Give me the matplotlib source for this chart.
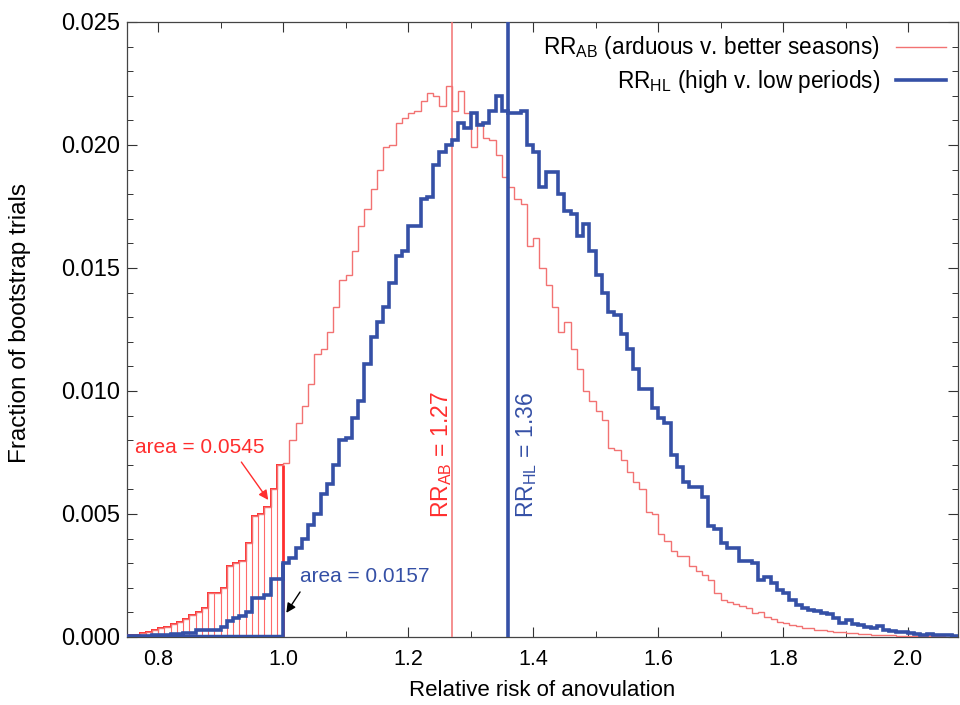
import numpy as np
import matplotlib
matplotlib.use("Agg")
import matplotlib.pyplot as plt
from matplotlib.ticker import MultipleLocator, FormatStrFormatter

# ---------------- data ----------------
bin_start = 0.75
bin_width = 0.01
cutoff = 1.0

# RR_AB (arduous v. better seasons): fraction of bootstrap trials per bin (0.75 ... 2.07)
ab_frac = [
    0.0001, 0.0001, 0.00015, 0.00022, 0.00028, 0.00035, 0.0004, 0.00053, 0.0006, 0.00072,
    0.0009, 0.001, 0.00117, 0.00178, 0.00178, 0.00198, 0.0029, 0.003, 0.0031, 0.0038,
    0.0049, 0.005, 0.0053, 0.006, 0.007,
    0.00706, 0.0080, 0.0087, 0.0094, 0.0103, 0.0115, 0.0117, 0.0124, 0.0134, 0.0145,
    0.0147, 0.0157, 0.0167, 0.0174, 0.0182, 0.0190, 0.0199, 0.0200, 0.0209, 0.0211,
    0.0213, 0.0214, 0.0218, 0.0221, 0.0220, 0.0216, 0.0224, 0.0214, 0.0222, 0.0213,
    0.0199, 0.0209, 0.0203, 0.0202, 0.0196, 0.0187, 0.0183, 0.0178, 0.0176, 0.0159,
    0.0162, 0.0150, 0.0143, 0.0134, 0.0124, 0.0128, 0.0117, 0.0109, 0.0100, 0.0096,
    0.0092, 0.0088, 0.0077, 0.0076, 0.0072, 0.0067, 0.0063, 0.0060, 0.0051, 0.0050,
    0.0042, 0.0039, 0.0035, 0.0033, 0.0033, 0.0029, 0.0027, 0.0025, 0.0023, 0.0018,
    0.0015, 0.00144, 0.00134, 0.00126, 0.00117, 0.00096, 0.00103, 0.0008, 0.00072, 0.00062,
    0.00058, 0.00049, 0.00045, 0.00035, 0.00035, 0.0003, 0.00028, 0.00024, 0.00022, 0.0002,
    0.00018, 0.00015, 0.00013, 0.00012, 0.0001, 0.00009, 0.00008, 0.00006, 0.00005, 0.00005,
    0.00004, 0.00003, 0.00003, 0.00002, 0.00002, 0.00002, 0.00001, 0.00001,
]

# RR_HL (high v. low periods)
hl_frac = [
    0.00003, 0.00003, 0.00004, 0.00005, 0.00006, 0.0001, 0.0001, 0.00012, 0.00012, 0.00015,
    0.00015, 0.00028, 0.00028, 0.0003, 0.0003, 0.00041, 0.00065, 0.00078, 0.00085, 0.001,
    0.00157, 0.00157, 0.0017, 0.00234, 0.00236,
    0.0030, 0.0032, 0.0036, 0.0040, 0.00455, 0.0050, 0.0058, 0.0062, 0.0070, 0.0080,
    0.0081, 0.0089, 0.0096, 0.0111, 0.0122, 0.0128, 0.0134, 0.0144, 0.0155, 0.0157,
    0.0167, 0.0167, 0.0178, 0.0179, 0.0192, 0.0197, 0.0200, 0.0202, 0.0209, 0.0207,
    0.0213, 0.0208, 0.0209, 0.0214, 0.0220, 0.0214, 0.0213, 0.0213, 0.0214, 0.0200,
    0.0197, 0.0183, 0.0189, 0.0189, 0.0180, 0.0173, 0.0172, 0.0163, 0.0168, 0.0157,
    0.0147, 0.0140, 0.0132, 0.0131, 0.0123, 0.0117, 0.0109, 0.0101, 0.0101, 0.0093,
    0.0089, 0.0087, 0.0074, 0.0069, 0.0063, 0.0061, 0.0061, 0.0057, 0.0045, 0.0044,
    0.0038, 0.0036, 0.0036, 0.0031, 0.0031, 0.0030, 0.0023, 0.00245, 0.0022, 0.0019,
    0.0018, 0.0015, 0.0013, 0.00117, 0.0011, 0.00107, 0.00096, 0.00094, 0.00076, 0.00058,
    0.00069, 0.00053, 0.00049, 0.00039, 0.00035, 0.00045, 0.00028, 0.00026, 0.00022, 0.0002,
    0.00015, 0.00012, 0.0001, 0.00012, 0.00009, 0.00008, 0.00006, 0.00005,
]

rr_ab = 1.27
rr_hl = 1.36
area_ab = "0.0545"
area_hl = "0.0157"

legend_ab = r"RR$_{\mathrm{AB}}$ (arduous v. better seasons)"
legend_hl = r"RR$_{\mathrm{HL}}$ (high v. low periods)"
xlabel = "Relative risk of anovulation"
ylabel = "Fraction of bootstrap trials"

# ---------------- style ----------------
plt.rcParams['font.family'] = ['Liberation Sans', 'DejaVu Sans']
plt.rcParams['mathtext.fontset'] = 'custom'
plt.rcParams['mathtext.rm'] = 'Liberation Sans'
plt.rcParams['mathtext.it'] = 'Liberation Sans:italic'
plt.rcParams['mathtext.bf'] = 'Liberation Sans:bold'

RED_LINE = '#f27272'
RED = '#ff2e2e'
RED_HATCH = '#ff6a6a'
BLUE = '#3550a6'

ab = np.array(ab_frac)
hl = np.array(hl_frac)
n = len(ab)
edges = bin_start + bin_width * np.arange(n + 1)
lefts = edges[:-1]
n_low = int((lefts < cutoff - 1e-9).sum())

fig = plt.figure(figsize=(9.6, 7.05), dpi=100)
ax = fig.add_axes([0.1323, 0.0965, 0.8656, 0.8723])

# hatched area of RR_AB below 1.0 (vertical line at every bin edge)
inner = edges[1:n_low]
inner_h = np.maximum(ab[:n_low - 1], ab[1:n_low])
ax.vlines(inner, 0, inner_h, color=RED_HATCH, linewidth=0.8, zorder=2)
ax.stairs(ab[:n_low], edges[:n_low + 1], baseline=None, color=RED, linewidth=1.4, zorder=3)
ax.vlines(cutoff, 0, ab[n_low - 1], color=RED, linewidth=2.0, zorder=3)

# full RR_AB histogram
ax.stairs(ab, edges, baseline=None, color=RED_LINE, linewidth=1.0, zorder=3,
          label=legend_ab)

# RR_HL histogram
ax.stairs(hl, edges, baseline=None, color=BLUE, linewidth=2.6, zorder=4,
          label=legend_hl)
ax.plot([bin_start, cutoff], [0, 0], color=BLUE, linewidth=3.2, zorder=4,
        solid_capstyle='butt')
ax.vlines(cutoff, 0, max(hl[n_low - 1], hl[n_low]), color=BLUE, linewidth=2.6, zorder=4)

# median lines
ax.axvline(rr_ab, color=RED_LINE, linewidth=1.1, zorder=3)
ax.axvline(rr_hl, color=BLUE, linewidth=2.6, zorder=4)

# labels on median lines
ax.text(1.254, 0.0074, r"RR$_{\mathrm{AB}}$ = 1.27", rotation=90, color=RED,
        fontsize=16.5, ha='center', va='center')
ax.text(1.389, 0.0074, r"RR$_{\mathrm{HL}}$ = 1.36", rotation=90, color=BLUE,
        fontsize=16.5, ha='center', va='center')

# area annotations
ax.text(0.867, 0.00772, "area = " + area_ab, color=RED, fontsize=15,
        ha='center', va='center')
ax.annotate('', xy=(0.976, 0.00557), xytext=(0.933, 0.00711),
            arrowprops=dict(arrowstyle='-|>', color=RED, lw=1.0,
                            mutation_scale=14, shrinkA=0, shrinkB=0))
ax.text(1.027, 0.00244, "area = " + area_hl, color=BLUE, fontsize=15,
        ha='left', va='center')
ax.annotate('', xy=(1.005, 0.00098), xytext=(1.027, 0.00183),
            arrowprops=dict(arrowstyle='-|>', color='black', lw=1.0,
                            mutation_scale=14, shrinkA=0, shrinkB=0))

# axes
ax.set_xlim(0.75, 2.08)
ax.set_ylim(0, 0.025)
ax.xaxis.set_major_locator(MultipleLocator(0.2))
ax.xaxis.set_minor_locator(MultipleLocator(0.1))
ax.yaxis.set_major_locator(MultipleLocator(0.005))
ax.yaxis.set_minor_locator(MultipleLocator(0.001))
ax.xaxis.set_major_formatter(FormatStrFormatter('%.1f'))
ax.yaxis.set_major_formatter(FormatStrFormatter('%.3f'))
ax.tick_params(which='both', direction='in', top=True, right=True,
               colors='#333333', labelcolor='black')
ax.tick_params(axis='x', which='major', labelsize=15.5, pad=9)
ax.tick_params(axis='y', which='major', labelsize=17, pad=5)
ax.tick_params(which='major', length=7, width=0.8)
ax.tick_params(which='minor', length=4, width=0.7)
for s in ax.spines.values():
    s.set_color('#444444')
    s.set_linewidth(0.9)

ax.set_xlabel(xlabel, fontsize=16, labelpad=7)
ax.set_ylabel(ylabel, fontsize=17.5)
ax.yaxis.set_label_coords(-0.116, 0.51)

leg = ax.legend(loc='upper right', frameon=False, markerfirst=False,
                fontsize=16.3, handlelength=2.2, handletextpad=0.7,
                borderaxespad=0.15, labelspacing=0.3)

fig.savefig('out.png', dpi=100)
